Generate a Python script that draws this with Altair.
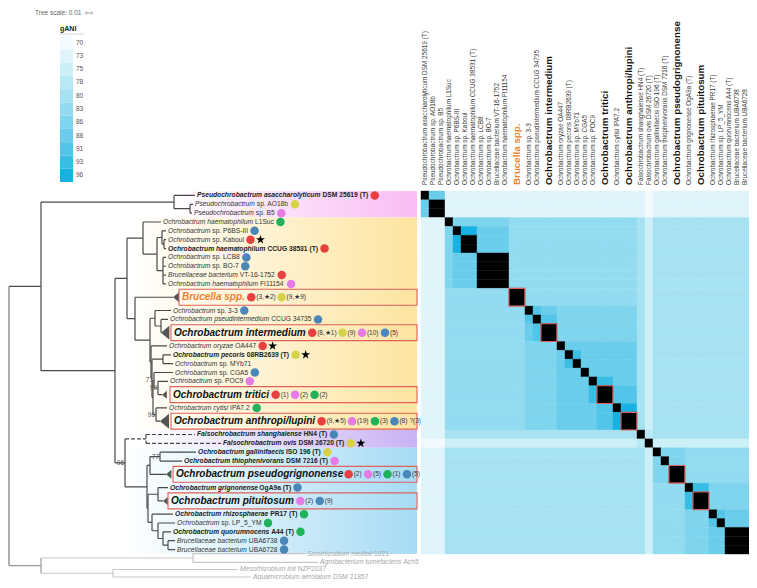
import altair as alt
import pandas as pd

FONT = "Liberation Sans"

# ---------------- taxa (tree leaves = heatmap rows/cols, top to bottom) ----------------
TAXA = [
    "Pseudochrobactrum asaccharolyticum DSM 25619 (T)",
    "Pseudochrobactrum sp. AO18b",
    "Pseudochrobactrum sp. B5",
    "Ochrobactrum haematophilum L1Suc",
    "Ochrobactrum sp. P6BS-III",
    "Ochrobactrum sp. Kaboul",
    "Ochrobactrum haematophilum CCUG 38531 (T)",
    "Ochrobactrum sp. LCB8",
    "Ochrobactrum sp. BO-7",
    "Brucellaceae bacterium VT-16-1752",
    "Ochrobactrum haematophilum FI11154",
    "Brucella spp.",
    "Ochrobactrum sp. 3-3",
    "Ochrobactrum pseudintermedium CCUG 34735",
    "Ochrobactrum intermedium",
    "Ochrobactrum oryzae OA447",
    "Ochrobactrum pecoris 08RB2639 (T)",
    "Ochrobactrum sp. MYb71",
    "Ochrobactrum sp. CGA5",
    "Ochrobactrum sp. POC9",
    "Ochrobactrum tritici",
    "Ochrobactrum cytisi IPA7.2",
    "Ochrobactrum anthropi/lupini",
    "Falsochrobactrum shanghaiense HN4 (T)",
    "Falsochrobactrum ovis DSM 26720 (T)",
    "Ochrobactrum gallinifaecis ISO 196 (T)",
    "Ochrobactrum thiophenivorans DSM 7216 (T)",
    "Ochrobactrum pseudogrignonense",
    "Ochrobactrum grignonense OgA9a (T)",
    "Ochrobactrum pituitosum",
    "Ochrobactrum rhizosphaerae PR17 (T)",
    "Ochrobactrum sp. LP_5_YM",
    "Ochrobactrum quorumnocens A44 (T)",
    "Brucellaceae bacterium UBA6738",
    "Brucellaceae bacterium UBA6728",
]
# collapsed clades occupy two heatmap units
SPAN = [1] * 11 + [2] + [1, 1, 2, 1, 1, 1, 1, 1, 2, 1, 2, 1, 1, 1, 1, 2, 1, 2, 1, 1, 1, 1, 1]
TYPE_STRAIN = [0, 6, 16, 23, 24, 25, 26, 28, 30, 32]
COLLAPSED = [11, 14, 20, 22, 27, 29]

# ---------------- gANI colour classes ----------------
GANI_LEVELS = [70, 73, 75, 78, 80, 83, 86, 88, 91, 93, 96]
GANI_COLORS = ["#f3fbfe", "#e0f5fb", "#cdeff8", "#bae9f6", "#a7e2f3", "#93dbf0",
               "#7fd4ee", "#6acdeb", "#53c5e8", "#3abde5", "#17b2e2"]
LEVEL_CODES = "0123456789a"   # index into GANI_LEVELS, X = identical (black)

# gANI matrix (column groups separated by spaces)
MATRIX = [
    "X77 11111111 1 111 11111111 10 1111111111",
    "7XX 11111111 1 111 11111111 10 1111111111",
    "7XX 11111111 1 111 11111111 10 1111111111",
    "111 X6666666 5 555 55555555 42 4444444444",
    "111 6Xaa7777 5 555 55555555 42 4444444444",
    "111 6aXX7777 5 555 55555555 42 4444444444",
    "111 6aXX7777 5 555 55555555 42 4444444444",
    "111 6777XXXX 5 555 55555555 42 4444444444",
    "111 6777XXXX 5 555 55555555 42 4444444444",
    "111 6777XXXX 5 555 55555555 42 4444444444",
    "111 6777XXXX 5 555 55555555 42 4444444444",
    "111 55555555 X 555 55555555 42 4444444444",
    "111 55555555 5 X87 66666666 42 4444444444",
    "111 55555555 5 8X8 66666666 42 4444444444",
    "111 55555555 5 78X 66666666 42 4444444444",
    "111 55555555 5 666 X7777777 42 4444444444",
    "111 55555555 5 666 7X977777 42 4444444444",
    "111 55555555 5 666 79X77777 42 4444444444",
    "111 55555555 5 666 777X7777 42 4444444444",
    "111 55555555 5 666 7777X977 42 4444444444",
    "111 55555555 5 666 77779X88 42 4444444444",
    "111 55555555 5 666 777778Xa 42 4444444444",
    "111 55555555 5 666 777778aX 42 4444444444",
    "111 44444444 4 444 44444444 X3 4444444444",
    "000 22222222 2 222 22222222 3X 2222222222",
    "111 44444444 4 444 44444444 42 X665555555",
    "111 44444444 4 444 44444444 42 6X65555555",
    "111 44444444 4 444 44444444 42 66X5555555",
    "111 44444444 4 444 44444444 42 555X966666",
    "111 44444444 4 444 44444444 42 5559X66666",
    "111 44444444 4 444 44444444 42 55566X8777",
    "111 44444444 4 444 44444444 42 555668X777",
    "111 44444444 4 444 44444444 42 5556677XXX",
    "111 44444444 4 444 44444444 42 5556677XXX",
    "111 44444444 4 444 44444444 42 5556677XXX",
]

# ---------------- tree (node, parent, depth on the tree axis) ----------------
NODE = ["ROOT", "IN", "OUT", "PS", "t0", "PS2", "t1", "t2", "OF", "A", "A1", "t3", "A1B", "PKC", "t4",
        "KC", "t5", "t6", "LBVF", "t7", "t8", "t9", "t10", "A2", "t11", "A2R", "IPI", "t12", "PI", "t13",
        "t14", "C", "t15", "D", "PM", "t16", "t17", "E", "F71", "t18", "H99", "t19", "t20", "G96", "t21",
        "t22", "BF", "F", "t23", "t24", "B", "G77", "GT", "t25", "t26", "t27", "H", "I", "t28", "t29",
        "J", "t30", "K", "t31", "L", "t32", "M", "t33", "t34", "SA", "o0", "o1", "MA", "o2", "o3"]
PARENT = [None, "ROOT", "ROOT", "IN", "PS", "PS", "PS2", "PS2", "IN", "OF", "A", "A1", "A1", "A1B", "PKC",
          "PKC", "KC", "KC", "A1B", "LBVF", "LBVF", "LBVF", "LBVF", "A", "A2", "A2", "A2R", "IPI", "IPI", "PI",
          "PI", "A2R", "C", "C", "D", "PM", "PM", "D", "E", "F71", "F71", "H99", "H99", "E", "G96",
          "G96", "OF", "BF", "F", "F", "BF", "B", "G77", "GT", "GT", "G77", "B", "H", "I", "I",
          "H", "J", "J", "K", "K", "L", "L", "M", "M", "OUT", "SA", "SA", "OUT", "MA", "MA"]
DEPTH = [9, 41, 41, 174, 195, 190, 193, 192, 115, 127, 143, 161, 157, 162, 166,
         164, 166, 166, 163, 166, 166, 166, 166, 135, 173, 150, 155, 171, 161, 168,
         161, 151, 167, 152, 163, 171, 173, 153, 154, 173, 158, 168, 162, 156, 167,
         160, 125, 146, 195, 221, 147, 150, 160, 196, 182, 166, 148, 158, 168, 163,
         152, 173, 158, 175, 163, 171, 168, 175, 175, 193, 305, 318, 113, 238, 251]
DASHED_NODES = ["F", "t23", "t24"]
OUTGROUP_TAXA = ["Sinorhizobium meliloti 1021", "Agrobacterium tumefaciens Ach5",
                 "Mesorhizobium loti NZP2037", "Aquamicrobium aerolatum DSM 21857"]
OUTGROUP_Y = [40.95, 41.95, 42.75, 43.6]
BOOT_NODE = ["F71", "H99", "G96", "GT", "BF"]
BOOT_TEXT = ["71", "99", "96", "77", "96"]

# collapsed clade triangles and label boxes
TRI_H = [10, 14, 8, 15, 9, 8]
BOX_X0 = [179, 171, 170, 171, 173, 168]
BOX_X1 = 417

# coloured background ranges
BAND_ROWS = [(0, 2), (3, 22), (23, 24), (25, 34)]
BAND_X0 = [170, 128, 140, 124]
BAND_COLORS = ["#f9bcf4", "#fde4a0", "#c9b3f4", "#a6dbf5"]

# isolation-source dots / stars / counts after the leaf labels
MARK_ROW = [0, 1, 2, 3, 4, 5, 5, 6, 7, 8, 9, 10, 11, 11, 12, 13, 14, 14, 14, 14, 15, 15, 16, 16, 18, 19,
            20, 20, 20, 21, 22, 22, 22, 22, 22, 23, 24, 24, 25, 26, 27, 27, 27, 27, 28, 29, 29, 30, 31,
            32, 33, 34]
MARK_KIND = ["red", "yellow", "pink", "green", "blue", "red", "star", "red", "blue", "blue", "red", "pink",
             "red", "yellow", "blue", "blue", "red", "yellow", "pink", "blue", "red", "star", "yellow", "star",
             "blue", "pink", "red", "pink", "green", "green", "red", "pink", "green", "blue", "text", "blue",
             "yellow", "star", "yellow", "pink", "red", "pink", "green", "blue", "blue", "pink", "blue",
             "green", "green", "green", "blue", "blue"]
MARK_NOTE = ["", "", "", "", "", "", "", "", "", "", "", "",
             "(3,\u26052)", "(9,\u26059)", "", "", "(8,\u26051)", "(9)", "(10)", "(5)", "", "", "", "",
             "", "", "(1)", "(2)", "(2)", "", "(9,\u26055)", "(19)", "(3)", "(8)", "?(3)", "",
             "", "", "", "", "(2)", "(5)", "(1)", "(5)", "", "(2)", "(9)",
             "", "", "", "", ""]
DOT_COLORS = {"red": "#e8403f", "yellow": "#d6d34a", "pink": "#e77be6", "green": "#20b25a", "blue": "#4a86b8"}
STAR_PATH = ("M0,-1L0.2245,-0.309L0.951,-0.309L0.363,0.118L0.588,0.809L0,0.382L-0.588,0.809"
             "L-0.363,0.118L-0.951,-0.309L-0.2245,-0.309Z")

# ---------------- text metrics (Liberation Sans = Arial metrics) ----------------
def _table(spec):
    t = {}
    for chars, w in spec:
        for ch in chars:
            t[ch] = w
    return t

REG_W = _table([("abdeghnopqu0123456789_?#$L", 556), ("cksvxyzJ", 500), ("ft .,:;/!I[]", 278),
                ("ijl", 222), ("r()-", 333), ("mM", 833), ("wCDHNRU", 722), ("ABEKPSVXY&", 667),
                ("FTZ", 611), ("GOQ", 778), ("W", 944), ("\u2605", 838)])
BOLD_W = _table([("acegksvxy0123456789_J", 556), ("bdhnopqu?", 611), ("ft()-:", 333), ("ijl .,/I", 278),
                 ("r", 389), ("m", 889), ("w", 778), ("ABCDHKNRU", 722), ("EPSVXY", 667), ("FLTZ", 611),
                 ("GOQ", 778), ("M", 833), ("W", 944), ("z", 500), ("\u2605", 838)])

def text_width(s, size, bold=False):
    t = BOLD_W if bold else REG_W
    return sum(t.get(c, 556) for c in s) / 1000.0 * size

def split_name(name):
    w = name.split(" ")
    if len(w) > 1 and w[1] == "sp.":
        return w[0], " ".join(w[1:])
    return " ".join(w[:2]), " ".join(w[2:])

# ---------------- geometry ----------------
ROW_START = []
acc = 0
for s in SPAN:
    ROW_START.append(acc)
    acc += s
ROW_MID = [a + s / 2 for a, s in zip(ROW_START, SPAN)]

depth = dict(zip(NODE, DEPTH))
children = {}
for n, p in zip(NODE, PARENT):
    if p is not None:
        children.setdefault(p, []).append(n)
ycache = {}

def node_y(n):
    if n in ycache:
        return ycache[n]
    if n[0] == "t" and n[1:].isdigit():
        y = ROW_MID[int(n[1:])]
    elif n[0] == "o" and n[1:].isdigit():
        y = OUTGROUP_Y[int(n[1:])]
    else:
        ys = [node_y(c) for c in children[n]]
        y = (min(ys) + max(ys)) / 2
    ycache[n] = y
    return y

LIGHT = ["SA", "MA", "o0", "o1", "o2", "o3"]

def node_color(n):
    if n == "ROOT":
        return "#7a7a7a"
    if n == "OUT":
        return "#9a9a9a"
    if n in LIGHT:
        return "#c6c6c6"
    return "#4a4a4a"

seg = []
for n, p in zip(NODE, PARENT):
    dash = "dash" if n in DASHED_NODES else "solid"
    if p is not None:
        seg.append(dict(x0=depth[p], x1=depth[n], y0=node_y(n), y1=node_y(n), col=node_color(n), dash=dash))
    if n in children:
        ys = [node_y(c) for c in children[n]]
        seg.append(dict(x0=depth[n], x1=depth[n], y0=min(ys), y1=max(ys), col=node_color(n), dash=dash))
seg_df = pd.DataFrame(seg)

W, H = 741, 572
XP = alt.Scale(domain=[8, 749], range=[0, 741], nice=False, zero=False)
YP = alt.Scale(domain=[8, 580], range=[0, 572], nice=False, zero=False)
XH = alt.Scale(domain=[0, 41], range=[413, 741], nice=False, zero=False)
YU = alt.Scale(domain=[0, 41], range=[183, 546], nice=False, zero=False)
YL = alt.Scale(domain=[0, 11], range=[28, 174], nice=False, zero=False)

FS = 6.7
BIG_FS = 10
NOTE_FS = 6.5

layers = []

# background ranges
for (r0, r1), x0, colr in zip(BAND_ROWS, BAND_X0, BAND_COLORS):
    dfb = pd.DataFrame({"x0": [x0], "x1": [BOX_X1], "y0": [ROW_START[r0]], "y1": [ROW_START[r1] + SPAN[r1]]})
    grad = alt.Gradient(gradient="linear",
                        stops=[alt.GradientStop(color="#ffffff", offset=0), alt.GradientStop(color=colr, offset=1)],
                        x1=0, x2=1, y1=0, y2=0)
    layers.append(alt.Chart(dfb).mark_rect(color=grad).encode(
        x=alt.X("x0:Q", scale=XP, axis=None), x2="x1:Q",
        y=alt.Y("y0:Q", scale=YU, axis=None), y2="y1:Q"))

# tree branches
layers.append(alt.Chart(seg_df).mark_rule(strokeWidth=1.2).encode(
    x=alt.X("x0:Q", scale=XP, axis=None), x2="x1:Q",
    y=alt.Y("y0:Q", scale=YU, axis=None), y2="y1:Q",
    color=alt.Color("col:N", scale=None, legend=None),
    strokeDash=alt.StrokeDash("dash:N", scale=alt.Scale(domain=["solid", "dash"], range=[[1, 0], [4, 2]]),
                              legend=None)))

# collapsed triangles
tri_df = pd.DataFrame({
    "x": [depth["t%d" % i] + 0.3 * h for i, h in zip(COLLAPSED, TRI_H)],
    "y": [ROW_MID[i] for i in COLLAPSED],
    "s": [h * h for h in TRI_H]})
layers.append(alt.Chart(tri_df).mark_point(shape="M-0.6,0L0.6,-1L0.6,1Z", filled=True, fill="#555555",
                                           strokeWidth=0, opacity=1).encode(
    x=alt.X("x:Q", scale=XP, axis=None), y=alt.Y("y:Q", scale=YU, axis=None),
    size=alt.Size("s:Q", scale=None, legend=None)))

# bootstrap values
boot_df = pd.DataFrame({"x": [depth[n] - 1 for n in BOOT_NODE], "y": [node_y(n) for n in BOOT_NODE],
                        "text": BOOT_TEXT})
layers.append(alt.Chart(boot_df).mark_text(font=FONT, fontSize=6.5, color="#555555", align="right",
                                           baseline="middle").encode(
    x=alt.X("x:Q", scale=XP, axis=None), y=alt.Y("y:Q", scale=YU, axis=None), text="text:N"))

# label boxes
box_df = pd.DataFrame({"x0": BOX_X0, "x1": [BOX_X1] * len(BOX_X0),
                       "y0": [ROW_START[i] + 0.1 for i in COLLAPSED],
                       "y1": [ROW_START[i] + SPAN[i] - 0.1 for i in COLLAPSED]})
layers.append(alt.Chart(box_df).mark_rect(fillOpacity=0, stroke="#e0605a", strokeWidth=1.1).encode(
    x=alt.X("x0:Q", scale=XP, axis=None), x2="x1:Q",
    y=alt.Y("y0:Q", scale=YU, axis=None), y2="y1:Q"))

# leaf labels
lab = []
ends = {}
for i, name in enumerate(TAXA):
    y = ROW_MID[i]
    if i in COLLAPSED:
        k = COLLAPSED.index(i)
        x = BOX_X0[k] + 3
        col = "#f0822d" if name.startswith("Brucella") else "#111111"
        lab.append(dict(x=x, y=y, text=name, size=BIG_FS, color=col, bold=True, italic=True))
        ends[i] = x + text_width(name, BIG_FS, True)
    else:
        bold = i in TYPE_STRAIN
        x = depth["t%d" % i] + 2
        it, rest = split_name(name)
        col = "#1a1a1a" if bold else "#333333"
        lab.append(dict(x=x, y=y, text=it, size=FS, color=col, bold=bold, italic=True))
        if rest:
            lab.append(dict(x=x + text_width(it + " ", FS, bold), y=y, text=rest, size=FS, color=col,
                            bold=bold, italic=False))
        ends[i] = x + text_width(name, FS, bold)
for k, name in enumerate(OUTGROUP_TAXA):
    x = depth["o%d" % k] + 2
    y = OUTGROUP_Y[k]
    it, rest = split_name(name)
    lab.append(dict(x=x, y=y, text=it, size=FS, color="#a8a8a8", bold=False, italic=True))
    lab.append(dict(x=x + text_width(it + " ", FS), y=y, text=rest, size=FS, color="#a8a8a8", bold=False,
                    italic=False))
lab_df = pd.DataFrame(lab)
for bold in (False, True):
    for italic in (False, True):
        sub = lab_df[(lab_df.bold == bold) & (lab_df.italic == italic)]
        if len(sub) == 0:
            continue
        layers.append(alt.Chart(sub).mark_text(
            font=FONT, align="left", baseline="middle",
            fontWeight="bold" if bold else "normal", fontStyle="italic" if italic else "normal").encode(
            x=alt.X("x:Q", scale=XP, axis=None), y=alt.Y("y:Q", scale=YU, axis=None), text="text:N",
            size=alt.Size("size:Q", scale=None, legend=None),
            color=alt.Color("color:N", scale=None, legend=None)))

# dots, stars, counts
dots, stars, notes = [], [], []
cursor = dict(ends)
for r, kind, note in zip(MARK_ROW, MARK_KIND, MARK_NOTE):
    c = cursor[r]
    y = ROW_MID[r]
    if kind == "star":
        cx = c + 5.5
        stars.append(dict(x=cx, y=y))
        cursor[r] = cx + 4
    elif kind == "text":
        notes.append(dict(x=c + 2, y=y, text=note))
        cursor[r] = c + 2 + text_width(note, NOTE_FS)
    else:
        cx = c + 6.5
        dots.append(dict(x=cx, y=y, color=DOT_COLORS[kind]))
        cursor[r] = cx + 4.5
        if note:
            notes.append(dict(x=cursor[r] + 0.5, y=y, text=note))
            cursor[r] = cursor[r] + 0.5 + text_width(note, NOTE_FS)
layers.append(alt.Chart(pd.DataFrame(dots)).mark_circle(size=72, opacity=1).encode(
    x=alt.X("x:Q", scale=XP, axis=None), y=alt.Y("y:Q", scale=YU, axis=None),
    color=alt.Color("color:N", scale=None, legend=None)))
layers.append(alt.Chart(pd.DataFrame(stars)).mark_point(shape=STAR_PATH, size=90, filled=True,
                                                          color="#000000", opacity=1, strokeWidth=0).encode(
    x=alt.X("x:Q", scale=XP, axis=None), y=alt.Y("y:Q", scale=YU, axis=None)))
layers.append(alt.Chart(pd.DataFrame(notes)).mark_text(font=FONT, fontSize=NOTE_FS, color="#333333",
                                                        align="left", baseline="middle").encode(
    x=alt.X("x:Q", scale=XP, axis=None), y=alt.Y("y:Q", scale=YU, axis=None), text="text:N"))

# heatmap
cells = []
for i, row in enumerate(MATRIX):
    codes = row.replace(" ", "")
    for j, ch in enumerate(codes):
        val = 100 if ch == "X" else GANI_LEVELS[LEVEL_CODES.index(ch)]
        cells.append(dict(x0=ROW_START[j], x1=ROW_START[j] + SPAN[j], y0=ROW_START[i],
                          y1=ROW_START[i] + SPAN[i], gani=val))
hm_df = pd.DataFrame(cells)
cscale = alt.Scale(domain=GANI_LEVELS + [100], range=GANI_COLORS + ["#000000"])
layers.append(alt.Chart(hm_df).mark_rect(strokeWidth=0.4).encode(
    x=alt.X("x0:Q", scale=XH, axis=None), x2="x1:Q",
    y=alt.Y("y0:Q", scale=YU, axis=None), y2="y1:Q",
    color=alt.Color("gani:O", scale=cscale, legend=None),
    stroke=alt.Stroke("gani:O", scale=cscale, legend=None)))
diag_df = pd.DataFrame({"x0": [ROW_START[i] for i in COLLAPSED], "x1": [ROW_START[i] + 2 for i in COLLAPSED]})
layers.append(alt.Chart(diag_df).mark_rect(fillOpacity=0, stroke="#e0605a", strokeWidth=1.1).encode(
    x=alt.X("x0:Q", scale=XH, axis=None), x2="x1:Q",
    y=alt.Y("x0:Q", scale=YU, axis=None), y2="x1:Q"))

# column headers
col_df = pd.DataFrame({
    "x": ROW_MID, "y": [185] * len(TAXA), "text": TAXA,
    "big": [i in COLLAPSED for i in range(len(TAXA))],
    "size": [9.8 if i in COLLAPSED else 6.4 for i in range(len(TAXA))],
    "color": ["#f0822d" if t.startswith("Brucella spp") else ("#111111" if i in COLLAPSED else "#3a3a3a")
              for i, t in enumerate(TAXA)]})
for big in (False, True):
    layers.append(alt.Chart(col_df[col_df.big == big]).mark_text(
        font=FONT, angle=270, align="left", baseline="middle",
        fontWeight="bold" if big else "normal").encode(
        x=alt.X("x:Q", scale=XH, axis=None), y=alt.Y("y:Q", scale=YP, axis=None), text="text:N",
        size=alt.Size("size:Q", scale=None, legend=None),
        color=alt.Color("color:N", scale=None, legend=None)))

# legend
leg_df = pd.DataFrame({"k0": list(range(11)), "k1": [k + 1 for k in range(11)], "km": [k + 0.5 for k in range(11)],
                       "val": GANI_LEVELS, "col": GANI_COLORS, "x0": [60] * 11, "x1": [73] * 11,
                       "xt": [76] * 11, "lab": [str(v) for v in GANI_LEVELS]})
layers.append(alt.Chart(leg_df).mark_rect().encode(
    x=alt.X("x0:Q", scale=XP, axis=None), x2="x1:Q",
    y=alt.Y("k0:Q", scale=YL, axis=None), y2="k1:Q",
    color=alt.Color("col:N", scale=None, legend=None)))
layers.append(alt.Chart(leg_df).mark_text(font=FONT, fontSize=6.5, color="#555555", align="left",
                                          baseline="middle").encode(
    x=alt.X("xt:Q", scale=XP, axis=None), y=alt.Y("km:Q", scale=YL, axis=None), text="lab:N"))
title_df = pd.DataFrame({"x": [60, 35], "y": [32, 13], "text": ["gANI", "Tree scale: 0.01"],
                         "size": [7, 6.5], "color": ["#222222", "#666666"]})
layers.append(alt.Chart(title_df.iloc[[0]]).mark_text(font=FONT, fontWeight="bold", align="left",
                                                       baseline="bottom").encode(
    x=alt.X("x:Q", scale=XP, axis=None), y=alt.Y("y:Q", scale=YP, axis=None), text="text:N",
    size=alt.Size("size:Q", scale=None, legend=None), color=alt.Color("color:N", scale=None, legend=None)))
layers.append(alt.Chart(title_df.iloc[[1]]).mark_text(font=FONT, align="left", baseline="middle").encode(
    x=alt.X("x:Q", scale=XP, axis=None), y=alt.Y("y:Q", scale=YP, axis=None), text="text:N",
    size=alt.Size("size:Q", scale=None, legend=None), color=alt.Color("color:N", scale=None, legend=None)))
rule_df = pd.DataFrame({"x0": [60, 86, 86, 92], "x1": [84, 92, 86, 92], "y0": [34, 13, 11.5, 11.5],
                        "y1": [34, 13, 14.5, 14.5], "col": ["#cccccc", "#888888", "#888888", "#888888"]})
layers.append(alt.Chart(rule_df).mark_rule(strokeWidth=0.8).encode(
    x=alt.X("x0:Q", scale=XP, axis=None), x2="x1:Q",
    y=alt.Y("y0:Q", scale=YP, axis=None), y2="y1:Q",
    color=alt.Color("col:N", scale=None, legend=None)))

chart = alt.layer(*layers).resolve_scale(
    x="independent", y="independent", color="independent", size="independent",
    stroke="independent", strokeDash="independent"
).properties(width=W, height=H, padding=0, autosize="none").configure_view(stroke=None)

chart.save("out.html", embed_options={"renderer": "svg", "actions": False})
